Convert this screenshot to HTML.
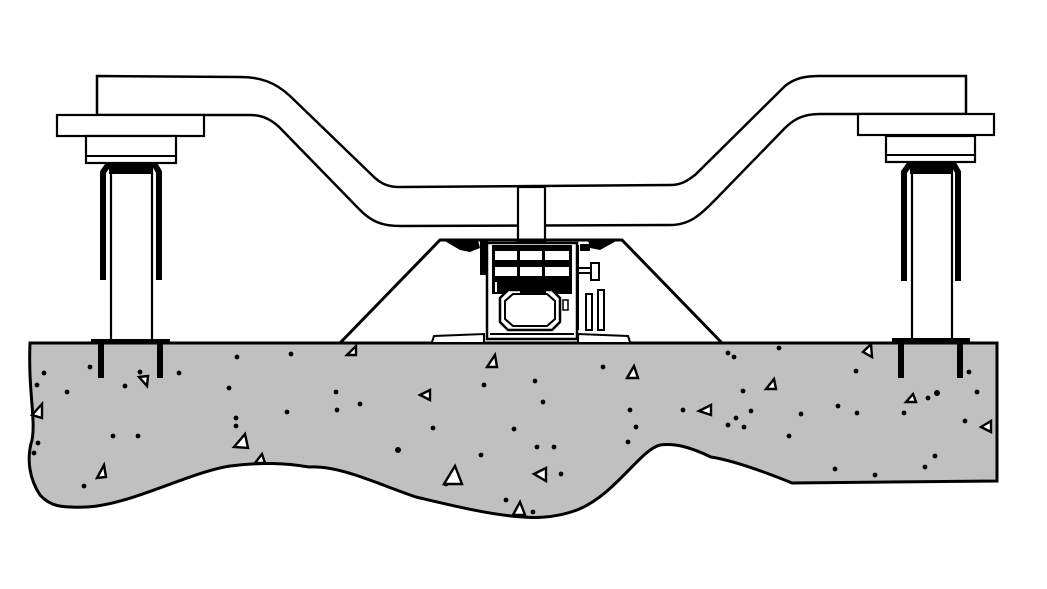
<!DOCTYPE html>
<html><head><meta charset="utf-8"><style>html,body{margin:0;padding:0;background:#fff}svg{display:block}</style></head>
<body>
<svg width="1047" height="589" viewBox="0 0 1047 589" xmlns="http://www.w3.org/2000/svg">
<rect width="1047" height="589" fill="#fff"/>
<!-- ground -->
<path d="M30,343 L997,343 L997,481 L792,483 C760,470 730,460 711,457 C690,447 675,443 660,445 C640,450 615,495 577,510 C555,518 535,518 523,517 C490,515 450,505 416,497 C380,485 340,465 309,467 C285,463 262,462 230,466 C190,472 130,505 87,507 C60,508 50,506 40,495 C30,480 26,460 32,440 C36,420 28,390 30,343 Z" fill="#c0c0c0" stroke="#000" stroke-width="3"/>
<g fill="#000">
<circle cx="44" cy="373" r="2.4"/><circle cx="37" cy="385" r="2.4"/><circle cx="67" cy="392" r="2.4"/><circle cx="90" cy="367" r="2.4"/><circle cx="140" cy="372" r="2.4"/><circle cx="125" cy="386" r="2.4"/><circle cx="179" cy="373" r="2.4"/><circle cx="237" cy="357" r="2.4"/><circle cx="291" cy="354" r="2.4"/><circle cx="229" cy="388" r="2.4"/><circle cx="287" cy="412" r="2.4"/><circle cx="336" cy="392" r="2.4"/><circle cx="360" cy="404" r="2.4"/><circle cx="337" cy="410" r="2.4"/><circle cx="236" cy="418" r="2.4"/><circle cx="236" cy="426" r="2.4"/><circle cx="113" cy="436" r="2.4"/><circle cx="138" cy="436" r="2.4"/><circle cx="38" cy="443" r="2.4"/><circle cx="34" cy="453" r="2.4"/><circle cx="84" cy="486" r="2.4"/><circle cx="398" cy="450" r="3"/><circle cx="433" cy="428" r="2.4"/><circle cx="481" cy="455" r="2.4"/><circle cx="446" cy="484" r="2.4"/><circle cx="484" cy="385" r="2.4"/><circle cx="537" cy="447" r="2.4"/><circle cx="554" cy="447" r="2.4"/><circle cx="561" cy="474" r="2.4"/><circle cx="506" cy="500" r="2.4"/><circle cx="533" cy="512" r="2.4"/><circle cx="535" cy="381" r="2.4"/><circle cx="543" cy="402" r="2.4"/><circle cx="514" cy="429" r="2.4"/><circle cx="603" cy="367" r="2.4"/><circle cx="630" cy="410" r="2.4"/><circle cx="628" cy="442" r="2.4"/><circle cx="636" cy="427" r="2.4"/><circle cx="683" cy="410" r="2.4"/><circle cx="728" cy="353" r="2.4"/><circle cx="734" cy="357" r="2.4"/><circle cx="779" cy="348" r="2.4"/><circle cx="743" cy="391" r="2.4"/><circle cx="751" cy="411" r="2.4"/><circle cx="736" cy="418" r="2.4"/><circle cx="728" cy="425" r="2.4"/><circle cx="744" cy="427" r="2.4"/><circle cx="801" cy="414" r="2.4"/><circle cx="789" cy="436" r="2.4"/><circle cx="838" cy="406" r="2.4"/><circle cx="857" cy="413" r="2.4"/><circle cx="856" cy="371" r="2.4"/><circle cx="904" cy="413" r="2.4"/><circle cx="937" cy="393" r="3"/><circle cx="977" cy="392" r="2.4"/><circle cx="965" cy="421" r="2.4"/><circle cx="935" cy="456" r="2.4"/><circle cx="925" cy="467" r="2.4"/><circle cx="875" cy="475" r="2.4"/><circle cx="835" cy="469" r="2.4"/><circle cx="969" cy="372" r="2.4"/><circle cx="928" cy="398" r="2.4"/>
</g>
<g fill="#fff" stroke="#000" stroke-width="2.4">
<path d="M32,415 L42,404 L42,418 Z"/><path d="M97,478 L104,465 L106,477 Z"/><path d="M139,377 L148,376 L147,386 Z"/><path d="M234,447 L245,434 L248,448 Z"/><path d="M255,463 L262,454 L265,463 Z"/><path d="M347,355 L356,346 L356,355 Z"/><path d="M420,395 L430,390 L430,400 Z"/><path d="M444,484 L455,466 L462,484 Z"/><path d="M487,367 L495,355 L497,367 Z"/><path d="M534,474 L546,468 L546,481 Z"/><path d="M513,515 L520,502 L525,515 Z"/><path d="M627,378 L634,366 L638,378 Z"/><path d="M699,411 L711,405 L711,415 Z"/><path d="M766,389 L774,379 L776,389 Z"/><path d="M863,352 L871,344 L872,357 Z"/><path d="M906,402 L913,394 L916,402 Z"/><path d="M981,427 L991,421 L991,432 Z"/>
</g>
<!-- beam -->
<path d="M97,76 L240,77 C260,77 275,82 290,96 L375,178 C383,185 390,187 400,187 L670,185 C680,185 686,182 695,175 L785,86 C795,78 805,76 820,76 L966,76 L966,114 L858,114 L820,114 C805,114 795,118 785,128 L715,200 C700,215 690,225 670,225 L400,226 C380,226 370,220 360,210 L283,131 C273,120 263,115 250,115 L97,115 Z" fill="#fff" stroke="#000" stroke-width="2.5"/>
<!-- stem -->
<rect x="518" y="187" width="27" height="55" fill="#fff" stroke="#000" stroke-width="2.2"/>
<!-- left pedestal -->
<rect x="57" y="115" width="147" height="21" fill="#fff" stroke="#000" stroke-width="2.2"/>
<rect x="86" y="136" width="90" height="27" fill="#fff" stroke="#000" stroke-width="2.2"/>
<line x1="86" y1="156" x2="176" y2="156" stroke="#000" stroke-width="2"/>
<rect x="111" y="170" width="41" height="172" fill="#fff" stroke="#000" stroke-width="2.2"/>
<path d="M103,280 L103,172 L108,165 L155,165 L159,172 L159,280" fill="none" stroke="#000" stroke-width="6" stroke-linejoin="round"/>
<rect x="109" y="168" width="44" height="6" fill="#000"/>
<rect x="91" y="339" width="79" height="5" fill="#000"/>
<rect x="98" y="340" width="6" height="38" fill="#000"/><rect x="157" y="340" width="6" height="38" fill="#000"/>
<!-- right pedestal -->
<rect x="858" y="114" width="136" height="21" fill="#fff" stroke="#000" stroke-width="2.2"/>
<rect x="886" y="136" width="89" height="26" fill="#fff" stroke="#000" stroke-width="2.2"/>
<line x1="886" y1="155" x2="975" y2="155" stroke="#000" stroke-width="2"/>
<rect x="912" y="170" width="40" height="171" fill="#fff" stroke="#000" stroke-width="2.2"/>
<path d="M904,281 L904,172 L909,165 L954,165 L958,172 L958,281" fill="none" stroke="#000" stroke-width="6" stroke-linejoin="round"/>
<rect x="910" y="168" width="43" height="6" fill="#000"/>
<rect x="892" y="338" width="78" height="5" fill="#000"/>
<rect x="898" y="340" width="6" height="38" fill="#000"/><rect x="957" y="340" width="6" height="38" fill="#000"/>
<!-- central housing -->
<path d="M340,343 L440,240 L622,240 L722,343" fill="none" stroke="#000" stroke-width="3"/>
<path d="M432,342 L434,336 L484,334 L484,342 M578,342 L578,334 L628,336 L630,342" fill="#fff" stroke="#000" stroke-width="2"/>
<path d="M443,240 L478,240 L480,248 L470,252 L460,250 Z" fill="#000"/>
<path d="M588,240 L618,240 L600,250 L590,248 Z" fill="#000"/>
<rect x="480" y="240" width="8" height="35" fill="#000"/>
<rect x="487" y="243" width="90" height="96" fill="#fff" stroke="#000" stroke-width="2.5"/>
<rect x="492" y="245" width="80" height="49" fill="#000"/>
<g fill="#fff"><rect x="495" y="251" width="22" height="9"/><rect x="520" y="251" width="22" height="9"/><rect x="545" y="251" width="24" height="9"/><rect x="495" y="267" width="22" height="9"/><rect x="520" y="267" width="22" height="9"/><rect x="545" y="267" width="24" height="9"/><rect x="495" y="282" width="2" height="10"/></g>
<path d="M508,290 L552,290 L560,298 L560,322 L552,330 L508,330 L500,322 L500,298 Z" fill="#fff" stroke="#000" stroke-width="2.5"/>
<path d="M513,294 L547,294 L555,301 L555,319 L547,326 L513,326 L505,319 L505,301 Z" fill="#fff" stroke="#000" stroke-width="2"/>
<rect x="520" y="283" width="26" height="11" fill="#000"/>
<line x1="490" y1="334" x2="574" y2="334" stroke="#000" stroke-width="2"/>
<rect x="563" y="300" width="5" height="10" fill="#fff" stroke="#000" stroke-width="1.5"/>
<line x1="578" y1="245" x2="578" y2="330" stroke="#000" stroke-width="2"/>
<rect x="580" y="244" width="10" height="7" fill="#000"/>
<line x1="578" y1="268" x2="592" y2="268" stroke="#000" stroke-width="2"/><line x1="578" y1="273" x2="592" y2="273" stroke="#000" stroke-width="2"/>
<rect x="591" y="263" width="8" height="17" fill="#fff" stroke="#000" stroke-width="2"/>
<rect x="586" y="294" width="6" height="36" fill="#fff" stroke="#000" stroke-width="2"/>
<rect x="598" y="290" width="6" height="40" fill="#fff" stroke="#000" stroke-width="2"/>
</svg>
</body></html>
